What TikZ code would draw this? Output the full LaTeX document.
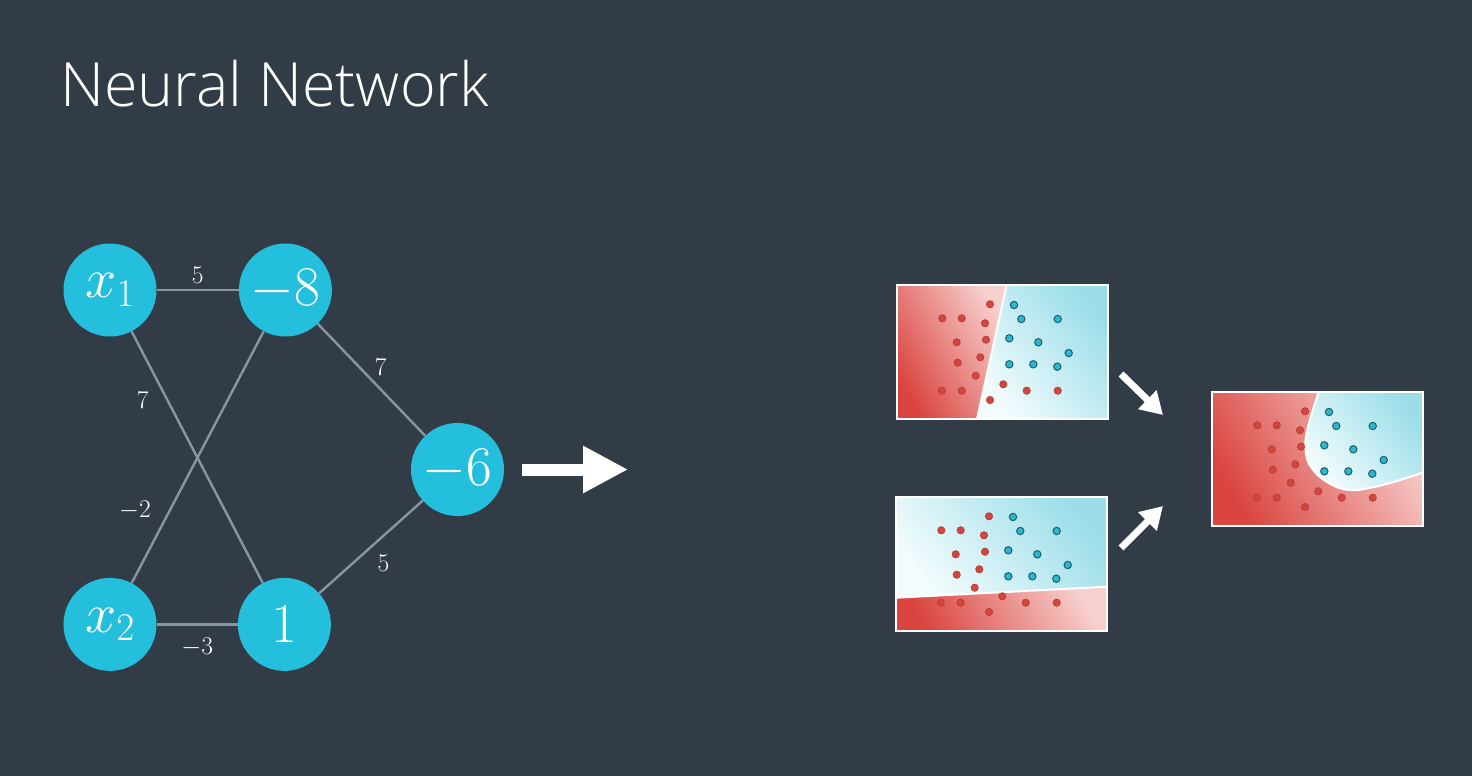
\documentclass[tikz,border=0pt]{standalone}
\usepackage[no-math]{fontspec}
\IfFontExistsTF{Open Sans Light}{\setsansfont{Open Sans Light}}{\setsansfont{Open Sans}}
% scalable math fonts for the big labels
\DeclareFontShape{OT1}{cmr}{m}{n}{<-6>cmr5<6-7>cmr6<7-8>cmr7<8-9>cmr8<9-10>cmr9<10-12>cmr10<12-17>cmr12<17->cmr17}{}
\DeclareFontShape{OML}{cmm}{m}{it}{<-6>cmmi5<6-7>cmmi6<7-8>cmmi7<8-9>cmmi8<9-10>cmmi9<10-12>cmmi10<12->cmmi12}{}
\DeclareFontShape{OMS}{cmsy}{m}{n}{<-6>cmsy5<6-7>cmsy6<7-8>cmsy7<8-9>cmsy8<9-10>cmsy9<10->cmsy10}{}
\usepackage{tikz}
\usetikzlibrary{arrows.meta,positioning,calc}
\definecolor{slate}{HTML}{323C47}
\definecolor{neuron}{HTML}{24BFDC}
\definecolor{wire}{HTML}{8796A3}
\definecolor{redDeep}{HTML}{DA4540}
\definecolor{redPale}{HTML}{F7CFCD}
\definecolor{blueDeep}{HTML}{9BDEE9}
\definecolor{bluePale}{HTML}{F3FCFD}
\definecolor{redDot}{HTML}{D2463F}
\definecolor{redRim}{HTML}{B63A34}
\definecolor{blueDot}{HTML}{2AB7D0}
\definecolor{blueRim}{HTML}{1F5E6B}
\tikzset{
	neural net/.style={
		x=1pt, y=-1pt,
		unit/.style={circle, fill=neuron, text=white, minimum size=93pt, inner sep=0pt,
			font=\fontsize{56}{60}\selectfont},
		link/.style={draw=wire, line width=2.4pt},
		weight/.style={text=white, inner sep=0pt, font=\fontsize{25.5}{28}\selectfont},
		node distance=82pt and 82pt
		},
	red field/.style={bottom color=redDeep, top color=redPale, shading angle=-60},
	blue field/.style={bottom color=bluePale, top color=blueDeep, shading angle=-50},
	boundary/.style={draw=white, line width=2pt},
	frame/.style={draw=white, line width=1.2pt},
	flow/.style={draw=white, line width=12pt, -{Triangle[length=45pt,width=44pt]}},
	flow small/.style={draw=white, line width=7pt, -{Triangle[length=22pt,width=25pt]}},
	class points/.pic={
		\foreach \a/\b in {93/19.3, 45.3/33.3, 64.7/33.3, 88/38.3, 59.7/57.3, 89/54.7,
				60.7/77.7, 83.3/72.3, 78.7/90.7, 44.7/105.7, 64.7/105.7, 106.3/99.3,
				129.7/105.7, 160.7/105.7, 93/115}
			\filldraw[fill=redDot, draw=redRim, line width=.6pt] (\a,\b) circle[radius=3.7pt];
		\foreach \a/\b in {117/20, 124.3/34, 160.7/34, 112.3/53.3, 141.3/57.3, 171.7/68,
				112.3/79.3, 136.3/79.3, 160.3/81.7}
			\filldraw[fill=blueDot, draw=blueRim, line width=1pt] (\a,\b) circle[radius=3.7pt];
	}
}

\begin{document}
\begin{tikzpicture}[neural net]
	\fill[slate] (0,0) rectangle (1472,776);
	\useasboundingbox (0,0) rectangle (1472,776);
	\node[anchor=base west, text=white, inner sep=0pt,
		font=\sffamily\fontsize{61}{66}\selectfont] (heading) at (60,106) {Neural Network};
	% network
	\node[unit] (x1) at (110,290) {$x_1$};
	\node[unit, right=of x1] (h1) {$-8$};
	\node[unit, below=241pt of x1] (x2) {$x_2$};
	\node[unit, right=81pt of x2] (h2) {$1$};
	\node[unit] (out) at (457.5,469.5) {$-6$};
	\draw[link] (x1) -- node[weight, above=5pt] {$5$} (h1);
	\draw[link] (x1) -- node[weight, pos=.275, left=18pt] {$7$} (h2);
	\draw[link] (x2) -- node[weight, pos=.29, left=18pt] {$-2$} (h1);
	\draw[link] (x2) -- node[weight, below=12pt] {$-3$} (h2);
	\draw[link] (h1) -- node[weight, pos=.39, right=14pt] {$7$} (out);
	\draw[link] (h2) -- node[weight, pos=.32, right=24pt] {$5$} (out);
	\coordinate[right=18pt of out.east] (res tail);
	\coordinate[right=106pt of res tail] (res tip);
	\draw[flow] (res tail) -- (res tip);
	% linear boundaries
	\begin{scope}[shift={(897,285)}]
		\shade[red field] (0,0) -- (109.7,0) -- (80,134) -- (0,134) -- cycle;
		\shade[blue field] (109.7,0) -- (211,0) -- (211,134) -- (80,134) -- cycle;
		\draw[boundary] (109.7,0) -- (80,134);
		\pic at (0,0) {class points};
		\draw[frame] (0,0) rectangle (211,134);
	\end{scope}
	\begin{scope}[shift={(896,497)}]
		\shade[blue field] (0,0) -- (211,0) -- (211,89.7) -- (0,100.7) -- cycle;
		\shade[red field] (0,100.7) -- (211,89.7) -- (211,134) -- (0,134) -- cycle;
		\draw[boundary] (0,100.7) -- (211,89.7);
		\pic at (0,0) {class points};
		\draw[frame] (0,0) rectangle (211,134);
	\end{scope}
	% combined boundary
	\begin{scope}[shift={(1212,392)}]
		\shade[red field] (0,0) rectangle (211,134);
		\begin{scope}
			\clip plot[smooth, tension=.7] coordinates {(106.7,0) (96,35) (93.5,57) (99,75)
				(115,90) (137,98) (162,95) (188,88) (211,80.5)} -- (211,0) -- cycle;
			\shade[blue field] (93,0) rectangle (211,99);
		\end{scope}
		\draw[boundary] plot[smooth, tension=.7] coordinates {(106.7,0) (96,35) (93.5,57) (99,75)
			(115,90) (137,98) (162,95) (188,88) (211,80.5)};
		\pic at (0,0) {class points};
		\draw[frame] (0,0) rectangle (211,134);
	\end{scope}
	\coordinate (down tail) at (1121,374);
	\coordinate (down tip) at (1163,415);
	\coordinate (up tail) at (1121,548);
	\coordinate (up tip) at (1163,506);
	\draw[flow small] (down tail) -- (down tip);
	\draw[flow small] (up tail) -- (up tip);
\end{tikzpicture}
\end{document}
